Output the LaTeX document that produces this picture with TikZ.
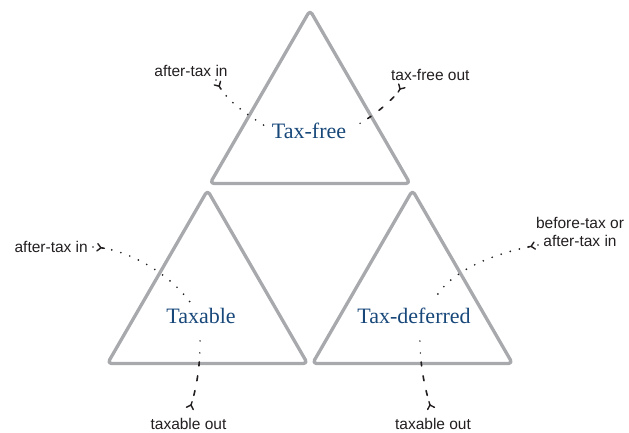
\documentclass[tikz,border=0pt]{standalone}
\usepackage{fontspec}
\setmainfont{Liberation Serif}
\setsansfont{Liberation Sans}
\usetikzlibrary{decorations.markings,calc}
\definecolor{tricol}{RGB}{167,169,172}
\definecolor{ttlcol}{RGB}{24,72,122}
\definecolor{lblcol}{RGB}{35,31,32}
\begin{document}
\begin{tikzpicture}[x=1pt,y=-1pt,
  tribox/.style={draw=tricol, line width=3.3pt, rounded corners=4pt, line join=round},
  ttl/.style={text=ttlcol, font=\fontsize{22}{26}\selectfont, anchor=base, inner sep=0pt},
  lbl/.style={text=lblcol, font=\sffamily\fontsize{15.5}{18}\selectfont, anchor=base, inner sep=0pt, align=center},
  ymark/.style={postaction={decorate}, decoration={markings, mark=at position #1 with {\draw[solid,line width=1.4pt,line cap=round,line join=round] (-3.6pt,-3.6pt) -- (0pt,0pt) -- (-3.6pt,3.6pt) (0pt,0pt) -- (3.5pt,0pt);}}},
  inflow/.style={draw=lblcol, line width=1.9pt, line cap=round, dash pattern=on 0pt off 9.5pt},
  outflow/.style={draw=lblcol, line width=1.6pt, line cap=round, dash pattern=on 0pt off 10pt on 5pt off 10pt on 5pt off 10pt on 4pt off 9pt on 0pt off 12pt on 0pt off 40pt}
]
\useasboundingbox (0,0) rectangle (629,432);
% triangles
\draw[tribox] (310,10.3) -- (410,183.5) -- (210,183.5) -- cycle;
\draw[tribox] (207.5,190.3) -- (307.5,363.5) -- (107.5,363.5) -- cycle;
\draw[tribox] (412.5,190.3) -- (512.5,363.5) -- (312.5,363.5) -- cycle;
% titles
\node[ttl] (t1) at (309,138.3) {Tax-free};
\node[ttl] (t2) at (201,323.3) {Taxable};
\node[ttl] (t3) at (414,323.3) {Tax-deferred};
% labels
\node[lbl] (l1) at (191,76) {after-tax in};
\node[lbl] (l2) at (430.3,80) {tax-free out};
\node[lbl] (l3) at (51.2,252) {after-tax in};
\node[lbl] (l4) at (580,246) {before-tax or\\after-tax in};
\node[lbl] (l5) at (188.5,429) {taxable out};
\node[lbl] (l6) at (433,429) {taxable out};
% connector ends
\coordinate (s1) at (216,80);   \coordinate (e1) at (265,126);
\coordinate (s2) at (400,89);   \coordinate (e2) at (353,127);
\coordinate (s3) at (93,247);   \coordinate (e3) at (190,302);
\coordinate (s4) at (538,245);  \coordinate (e4) at (433,302);
\coordinate (s5) at (191,405);  \coordinate (e5) at (200,333);
\coordinate (s6) at (430,405);  \coordinate (e6) at (420,333);
% connectors
\draw[inflow, ymark=7pt] (s1) .. controls (224,98) and (240,110) .. (e1);
\draw[outflow, ymark=0.01pt] (s2) .. controls (394,99) and (372,118) .. (e2);
\draw[inflow, ymark=8pt] (s3) .. controls (130,249) and (170,275) .. (e3);
\draw[inflow, ymark=7pt] (s4) .. controls (500,252) and (450,268) .. (e4);
\draw[outflow, ymark=0.01pt] (s5) .. controls (196,390) and (201,365) .. (e5);
\draw[outflow, ymark=0.01pt] (s6) .. controls (426,392) and (419,365) .. (e6);
\end{tikzpicture}
\end{document}
